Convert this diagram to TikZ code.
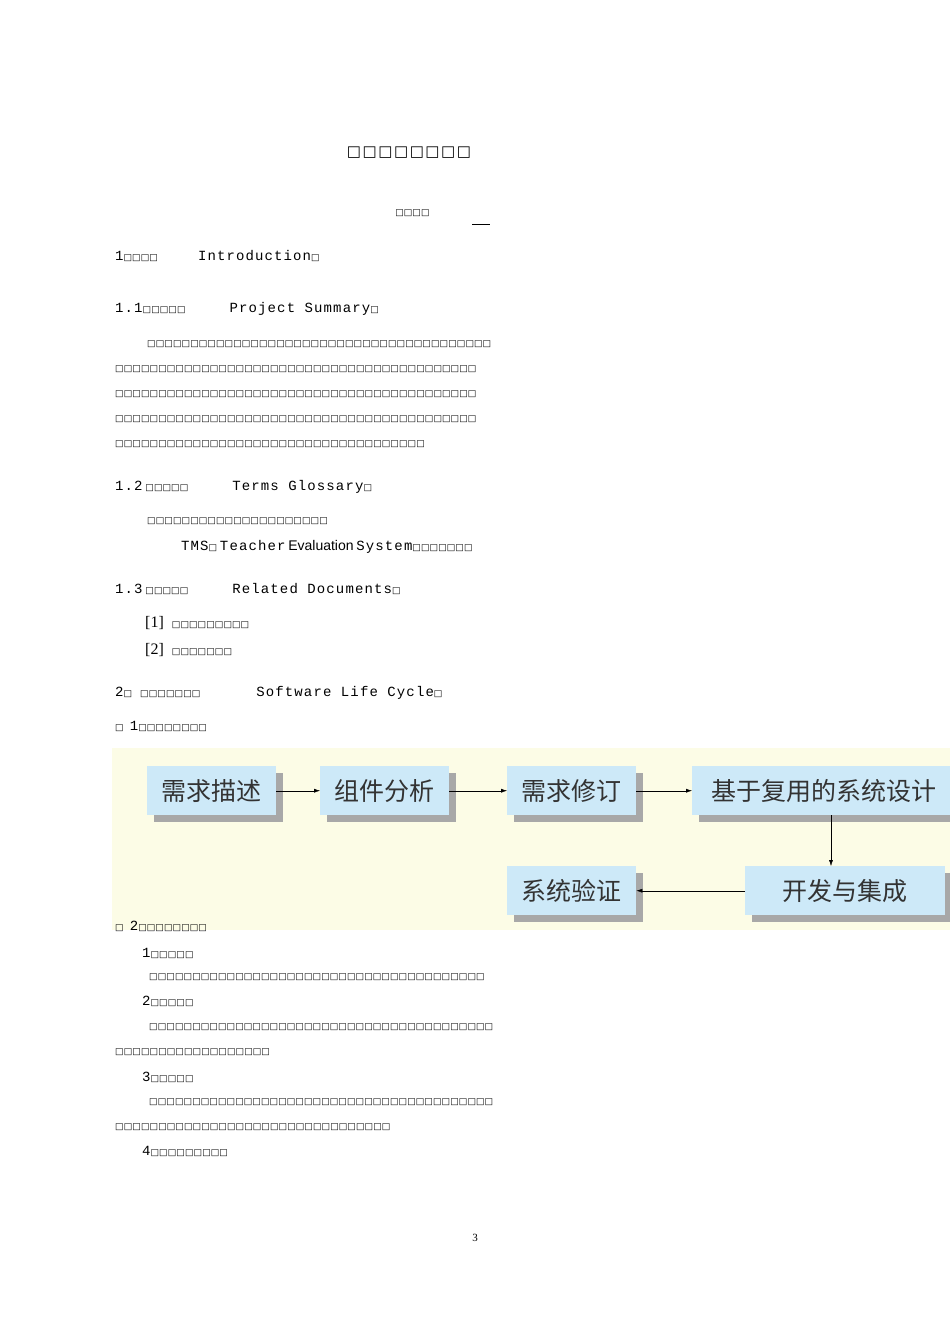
\documentclass[tikz,border=0pt]{standalone}
\usepackage{fontspec}
\setmainfont{Liberation Serif}
\newfontfamily\tofufont{DejaVu Sans}
\newfontfamily\monof[LetterSpace=8]{Liberation Mono}
\newfontfamily\cjk{Noto Sans CJK SC}
\usetikzlibrary{arrows.meta}
\definecolor{bgy}{HTML}{FCFCE6}
\definecolor{bx}{HTML}{CDE9F8}
\definecolor{shd}{HTML}{A8A8A8}
\definecolor{bt}{HTML}{333333}
\newcommand{\tfs}[1]{{\tofufont\pgfmathtruncatemacro\nn{round(#1/8.6)}\foreach \i in {1,...,\nn}{\makebox[8.6pt]{\fontsize{9}{10}\selectfont □}}}}
\newcommand{\mt}[1]{{\monof\fontsize{14}{15}\selectfont #1}}
\tikzset{txt/.style={anchor=west,inner sep=0pt,font=\fontsize{11}{12}\selectfont},
 box/.style={fill=bx,minimum height=49pt,inner sep=0pt,text=bt,font=\cjk\fontsize{25}{27}\selectfont},
 arr/.style={-{Latex[length=6pt,width=4pt]},thin}}
\begin{document}
\begin{tikzpicture}[x=1pt,y=-1pt]
\useasboundingbox[fill=white] (0,0) rectangle (950,1344);
\node[txt,anchor=center] (title) at (409,153) {{\tofufont\foreach \i in {1,...,8}{\makebox[15.7pt]{\fontsize{15}{16}\selectfont □}}}};
\node[txt] (auth) at (395,213) {\tfs{35}};
\draw (472,224) -- (490,224);
\node[txt] (h1) at (115,256) {\mt{1}\tfs{36}\hspace{40pt}\mt{Introduction}\tfs{8.6}};
\node[txt] (h11) at (115,309) {\mt{1.1}\tfs{45}\hspace{44pt}\mt{Project Summary}\tfs{8.6}};
\node[txt] (p1) at (147,344) {\tfs{343}};
\node[txt] (p2) at (115,369) {\tfs{358}};
\node[txt] (p3) at (115,394) {\tfs{358}};
\node[txt] (p4) at (115,419) {\tfs{358}};
\node[txt] (p5) at (115,444) {\tfs{307}};
\node[txt] (h12) at (115,487) {\mt{1.2} \tfs{45}\hspace{44pt}\mt{Terms Glossary}\tfs{8.6}};
\node[txt] (g1) at (147,521) {\tfs{183}};
\node[txt] (g2) at (181,547) {\mt{TMS}\tfs{8.6} \mt{Teacher} {\fontspec{Liberation Sans}\fontsize{14}{15}\selectfont Evaluation} \mt{System}\tfs{60}};
\node[txt] (h13) at (115,589) {\mt{1.3} \tfs{45}\hspace{44pt}\mt{Related Documents}\tfs{8.6}};
\node[txt] (r1) at (145,623) {{\fontsize{16}{17}\selectfont[1]}\hspace{8pt}\tfs{75}};
\node[txt] (r2) at (145,650) {{\fontsize{16}{17}\selectfont[2]}\hspace{8pt}\tfs{58}};
\node[txt] (h2) at (115,693) {\mt{2}\tfs{8.6}\hspace{8pt}\tfs{58}\hspace{56pt}\mt{Software Life Cycle}\tfs{8.6}};
\node[txt] (f1) at (115,726) {\tfs{8.6}\hspace{6pt}\mt{1}\tfs{70}};
\fill[bgy] (112,748) rectangle (950,930);
\foreach \n/\xa/\xb/\ya/\t in {b1/147/276/766/需求描述,b2/320/449/766/组件分析,b3/507/636/766/需求修订,b4/692/955/766/基于复用的系统设计,b5/507/636/866/系统验证,b6/745/945/866/开发与集成}{
 \fill[shd] (\xa+7,\ya+7) rectangle (\xb+7,\ya+56);
 \node[box,minimum width=\xb-\xa,anchor=north west] (\n) at (\xa,\ya) {\t};}
\draw[arr] (b1) -- (b2);
\draw[arr] (b2) -- (b3);
\draw[arr] (b3) -- (b4.west|-b3.east);
\draw[arr] (831,815) -- (831,866);
\draw[arr] (b6) -- (b5);
\node[txt] (f2) at (115,926) {\tfs{8.6}\hspace{6pt}\mt{2}\tfs{70}};
\node[txt] (s1) at (142,953) {\mt{1}\tfs{43}};
\node[txt] (l1) at (149,977) {\tfs{336}};
\node[txt] (s2) at (142,1001) {\mt{2}\tfs{43}};
\node[txt] (l2) at (149,1027) {\tfs{343}};
\node[txt] (l3) at (115,1052) {\tfs{156}};
\node[txt] (s3) at (142,1077) {\mt{3}\tfs{43}};
\node[txt] (l4) at (149,1102) {\tfs{343}};
\node[txt] (l5) at (115,1127) {\tfs{274}};
\node[txt] (s4) at (142,1151) {\mt{4}\tfs{80}};
\node[txt,anchor=center] (pg) at (475,1238) {\fontsize{11}{12}\selectfont 3};
\end{tikzpicture}
\end{document}
